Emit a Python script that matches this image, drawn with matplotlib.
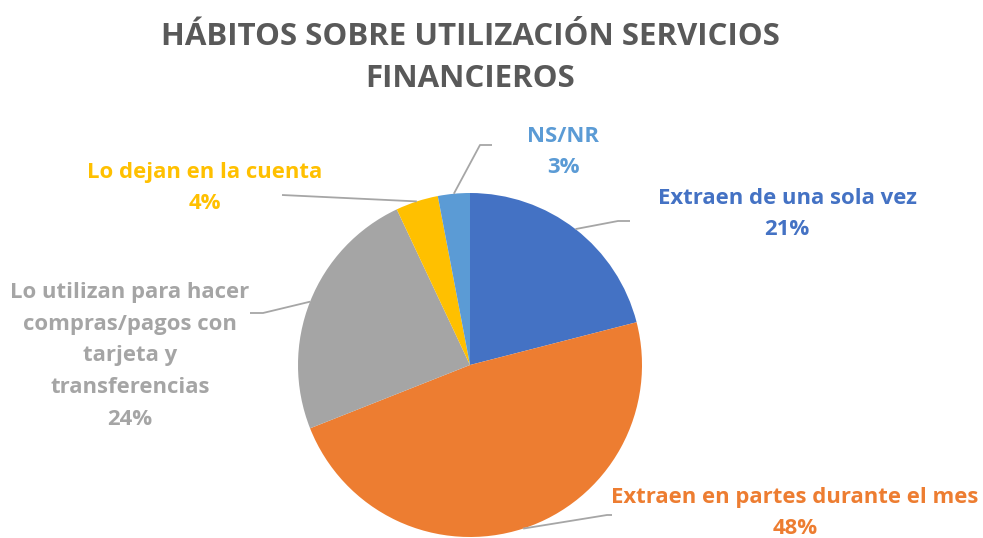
import matplotlib.pyplot as plt
import numpy as np

# chart data
labels = ["Extraen de una sola vez", "Extraen en partes durante el mes",
          "Lo utilizan para hacer\ncompras/pagos con\ntarjeta y\ntransferencias",
          "Lo dejan en la cuenta", "NS/NR"]
values = [21, 48, 24, 4, 3]
colors = ["#4472C4", "#ED7D31", "#A5A5A5", "#FFC000", "#5B9BD5"]
title = "HÁBITOS SOBRE UTILIZACIÓN SERVICIOS\nFINANCIEROS"

W, H = 983, 538
fig = plt.figure(figsize=(W / 100, H / 100), dpi=100)
ax = fig.add_axes([0, 0, 1, 1])

cx, cy, r = 470, H - 365, 172
wedges, _ = ax.pie(values, colors=colors, startangle=90, counterclock=False,
                   center=(cx, cy), radius=r,
                   wedgeprops=dict(linewidth=0))
ax.set_xlim(0, W)
ax.set_ylim(0, H)
ax.set_aspect("equal")
ax.axis("off")

# label layout (pixel coords from top): elbow, line end, text centre
layout = [
    ((618, 221), (630, 221), (787, 214)),
    ((607, 515), (612, 515), (795, 513)),
    ((263, 313), (250, 313), (130, 356)),
    ((282, 195), (282, 195), (205, 188)),
    ((480, 145), (492, 145), (563, 152)),
]

for w, lab, val, col, (elb, end, txt) in zip(wedges, labels, values, colors, layout):
    mid = np.deg2rad((w.theta1 + w.theta2) / 2)
    x0 = cx + r * np.cos(mid)
    y0 = cy + r * np.sin(mid)
    ax.plot([x0, elb[0], end[0]], [y0, H - elb[1], H - end[1]],
            color="#A6A6A6", lw=1.3, solid_capstyle="butt")
    ax.text(txt[0], H - txt[1], f"{lab}\n{val}%", color=col, fontsize=15.9,
            fontweight="bold", family="Open Sans", ha="center", va="center",
            linespacing=1.66)

ax.text(470, H - 58, title, color="#595959", fontsize=22.5, fontweight="bold",
        family="Open Sans", ha="center", va="center", linespacing=1.52)

fig.savefig("out.png", dpi=100)
